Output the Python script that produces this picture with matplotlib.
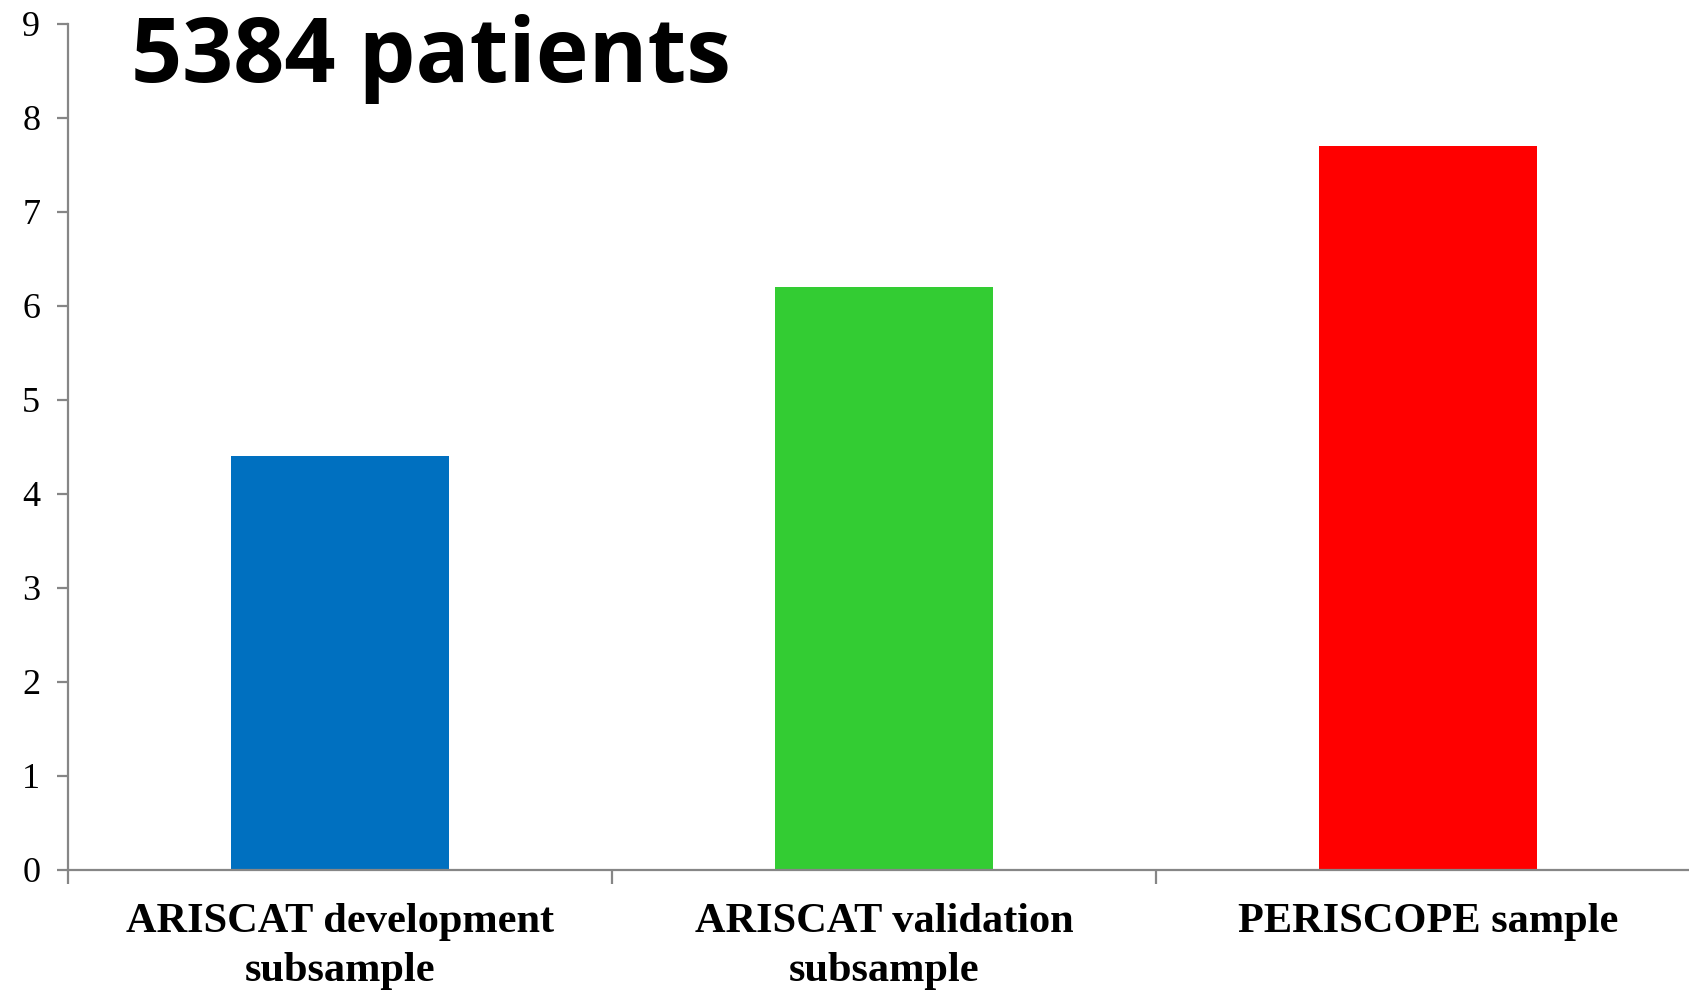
import matplotlib
matplotlib.use("Agg")
import matplotlib.pyplot as plt
import numpy as np

groups = ["ARISCAT development\nsubsample", "ARISCAT validation\nsubsample", "PERISCOPE sample"]
values = [4.4, 6.2, 7.7]
colors = ["#0070C0", "#33CC33", "#FF0000"]
yticks = list(range(0, 10))

axis_gray = "#868686"

fig = plt.figure(figsize=(16.89, 9.90), dpi=100)
ax = fig.add_axes([68 / 1689, 1 - 869.5 / 990, 1632 / 1689, (869.5 - 23.7) / 990])

x = np.arange(len(groups))
ax.bar(x, values, width=0.40, color=colors, zorder=2)

ax.set_xlim(-0.5, 2.5)
ax.set_ylim(0, 9)

for side in ("top", "right"):
    ax.spines[side].set_visible(False)
for side in ("left", "bottom"):
    ax.spines[side].set_color(axis_gray)
    ax.spines[side].set_linewidth(1.6)

ax.set_yticks(yticks)
ax.set_yticklabels([str(t) for t in yticks], family="Liberation Serif", fontsize=26)
ax.tick_params(axis="y", direction="out", length=8, width=1.6, color=axis_gray, pad=12)

# category labels in the middle, tick marks on the boundaries
ax.set_xticks(x)
ax.set_xticklabels(groups, family="Liberation Serif", fontweight="bold", fontsize=30.5,
                   linespacing=1.4)
ax.tick_params(axis="x", which="major", length=0, pad=24)
ax.set_xticks(np.arange(-0.5, 3.0, 1.0), minor=True)
ax.tick_params(axis="x", which="minor", direction="out", length=10, width=1.6, color=axis_gray)

fig.text(131 / 1689, 1 - 82 / 990, "5384 patients", family="Open Sans",
         fontweight="bold", fontsize=64.5, ha="left", va="baseline")

fig.savefig("out.png", dpi=100, facecolor="white")
